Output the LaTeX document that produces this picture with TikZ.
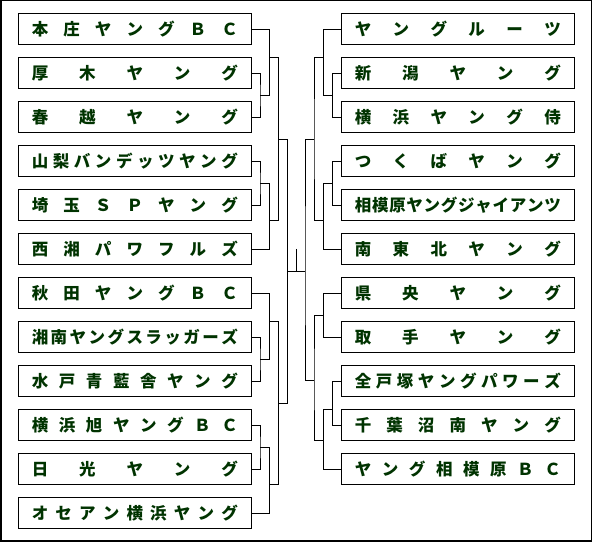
\documentclass[tikz,border=0pt]{standalone}
\usepackage{fontspec}
\newfontfamily\jpfont{Noto Sans CJK JP}
\definecolor{teamgreen}{RGB}{0,51,0}
\def\spreadloop#1#2\endspread{#1\ifx\endspread#2\endspread\else\hfill\spreadloop#2\endspread\fi}
\newcommand{\spreadname}[1]{\makebox[206pt][s]{\expandafter\spreadloop#1\endspread}}
\tikzset{
  team/.style={draw, line width=1pt, minimum width=233pt, minimum height=31.3pt,
    inner sep=0pt, text=teamgreen, font=\jpfont\bfseries\fontsize{16.5}{18}\selectfont},
  bracket/.style={line width=1pt}
}

\begin{document}
\begin{tikzpicture}[x=1pt,y=-1pt]
    \useasboundingbox (0,0) rectangle (595,545);
    \draw[line width=1.5pt] (0.75,0.75) rectangle (591.3,540.8);

    \foreach \nm [count=\i] in {本庄ヤングＢＣ,厚木ヤング,春越ヤング,山梨バンデッツヤング,
        埼玉ＳＰヤング,西湘パワフルズ,秋田ヤングＢＣ,湘南ヤングスラッガーズ,
        水戸青藍舎ヤング,横浜旭ヤングＢＣ,日光ヤング,オセアン横浜ヤング} {
        \node[team] (L\i) at (134.8,{29.3+44*(\i-1)}) {\spreadname{\nm}};
    }
    \foreach \nm [count=\i] in {ヤングルーツ,新潟ヤング,横浜ヤング侍,つくばヤング,
        相模原ヤングジャイアンツ,南東北ヤング,県央ヤング,取手ヤング,
        全戸塚ヤングパワーズ,千葉沼南ヤング,ヤング相模原ＢＣ} {
        \node[team] (R\i) at (457.8,{29.3+44*(\i-1)}) {\spreadname{\nm}};
    }

    \coordinate (pL23)   at (260,95.3);
    \coordinate (pL45)   at (260,183.3);
    \coordinate (pL89)   at (260,359.3);
    \coordinate (pL1011) at (260,447.3);
    \coordinate (gLA) at (269.3,57.3);
    \coordinate (gLB) at (269.3,221);
    \coordinate (gLC) at (269.3,321.3);
    \coordinate (gLD) at (269.3,485);
    \coordinate (hLA) at (278.3,139.3);
    \coordinate (hLB) at (278.3,403.3);
    \coordinate (cL)  at (287.3,271.3);

    \coordinate (pR23)  at (332.7,95.3);
    \coordinate (pR45)  at (332.7,183.3);
    \coordinate (pR910) at (332.7,409.3);
    \coordinate (gRA) at (323.3,57.3);
    \coordinate (gRB) at (323.3,221);
    \coordinate (gRC) at (323.3,315.3);
    \coordinate (gRD) at (323.3,441);
    \coordinate (hRA) at (314,139.3);
    \coordinate (hRB) at (314,381);
    \coordinate (cR)  at (305,271.3);

    \coordinate (win) at (296.3,249);

    \draw[bracket] (L2.east) -| (pL23) |- (L3.east);
    \draw[bracket] (L4.east) -| (pL45) |- (L5.east);
    \draw[bracket] (L8.east) -| (pL89) |- (L9.east);
    \draw[bracket] (L10.east) -| (pL1011) |- (L11.east);
    \draw[bracket] (L1.east) -| (gLA) |- (pL23);
    \draw[bracket] (pL45) -| (gLB) |- (L6.east);
    \draw[bracket] (L7.east) -| (gLC) |- (pL89);
    \draw[bracket] (pL1011) -| (gLD) |- (L12.east);
    \draw[bracket] (gLA) -| (hLA) |- (gLB);
    \draw[bracket] (gLC) -| (hLB) |- (gLD);
    \draw[bracket] (hLA) -| (cL) |- (hLB);

    \draw[bracket] (R2.west) -| (pR23) |- (R3.west);
    \draw[bracket] (R4.west) -| (pR45) |- (R5.west);
    \draw[bracket] (R9.west) -| (pR910) |- (R10.west);
    \draw[bracket] (R1.west) -| (gRA) |- (pR23);
    \draw[bracket] (pR45) -| (gRB) |- (R6.west);
    \draw[bracket] (R7.west) -| (gRC) |- (R8.west);
    \draw[bracket] (pR910) -| (gRD) |- (R11.west);
    \draw[bracket] (gRA) -| (hRA) |- (gRB);
    \draw[bracket] (gRC) -| (hRB) |- (gRD);
    \draw[bracket] (hRA) -| (cR) |- (hRB);

    \draw[bracket] (cL) -- (cR);
    \draw[bracket] (win) -- (win |- cL);
\end{tikzpicture}
\end{document}
